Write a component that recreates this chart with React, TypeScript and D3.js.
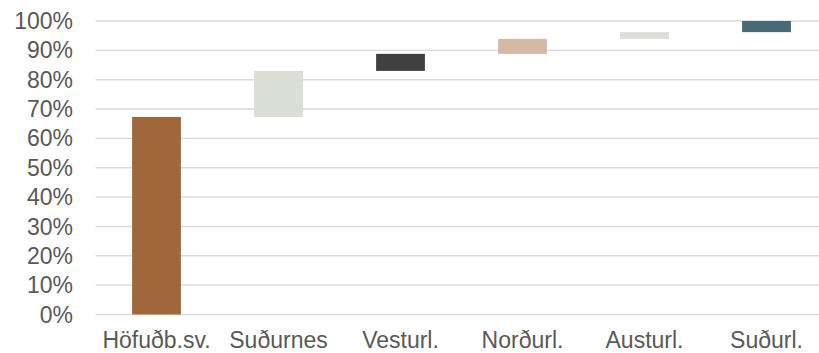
import React from 'react';
import * as d3 from 'd3';

// Regions and their share (percentage points) in the waterfall
const categories = ['Höfuðb.sv.', 'Suðurnes', 'Vesturl.', 'Norðurl.', 'Austurl.', 'Suðurl.'];
const shares = [67.3, 15.7, 5.8, 5.1, 2.3, 3.8];
const colors = ['#A0683A', '#DBDED6', '#404040', '#D5B8A6', '#DBDED6', '#476A79'];
const yTicks = [0, 10, 20, 30, 40, 50, 60, 70, 80, 90, 100];

const App = () => {
    const width = 819;
    const height = 353;
    const margin = { top: 21, right: -8.5, bottom: 38.5, left: 95.5 };

    // cumulative starts/ends for the floating bars
    const ends = d3.cumsum(shares);
    const bars = categories.map((c, i) => ({
        name: c,
        start: i === 0 ? 0 : ends[i - 1],
        end: ends[i],
        color: colors[i],
    }));

    const xScale = d3
        .scaleBand()
        .domain(categories)
        .range([margin.left, width - margin.right])
        .paddingInner(0.6)
        .paddingOuter(0.3);

    const yScale = d3
        .scaleLinear()
        .domain([0, 100])
        .range([height - margin.bottom, margin.top]);

    const font = 'Liberation Sans, Arial, sans-serif';

    return (
        <svg
            width={width}
            height={height}
            style={{ position: 'absolute', left: 0, top: 0, background: '#fff' }}
        >
            {/* gridlines + y labels */}
            {yTicks.map((t) => (
                <g key={t}>
                    <line
                        x1={margin.left}
                        x2={width}
                        y1={yScale(t)}
                        y2={yScale(t)}
                        stroke="#D9D9D9"
                        strokeWidth={1.4}
                    />
                    <text
                        x={73}
                        y={yScale(t)}
                        dy="0.35em"
                        textAnchor="end"
                        fontFamily={font}
                        fontSize={23}
                        fill="#595959"
                    >
                        {t}%
                    </text>
                </g>
            ))}

            {/* bars */}
            {bars.map((b) => (
                <rect
                    key={b.name}
                    x={xScale(b.name)}
                    width={xScale.bandwidth()}
                    y={yScale(b.end)}
                    height={yScale(b.start) - yScale(b.end)}
                    fill={b.color}
                />
            ))}

            {/* category labels */}
            {categories.map((c) => (
                <text
                    key={c}
                    x={(xScale(c) ?? 0) + xScale.bandwidth() / 2}
                    y={347.5}
                    textAnchor="middle"
                    fontFamily={font}
                    fontSize={23}
                    fill="#595959"
                >
                    {c}
                </text>
            ))}
        </svg>
    );
};

export default App;
